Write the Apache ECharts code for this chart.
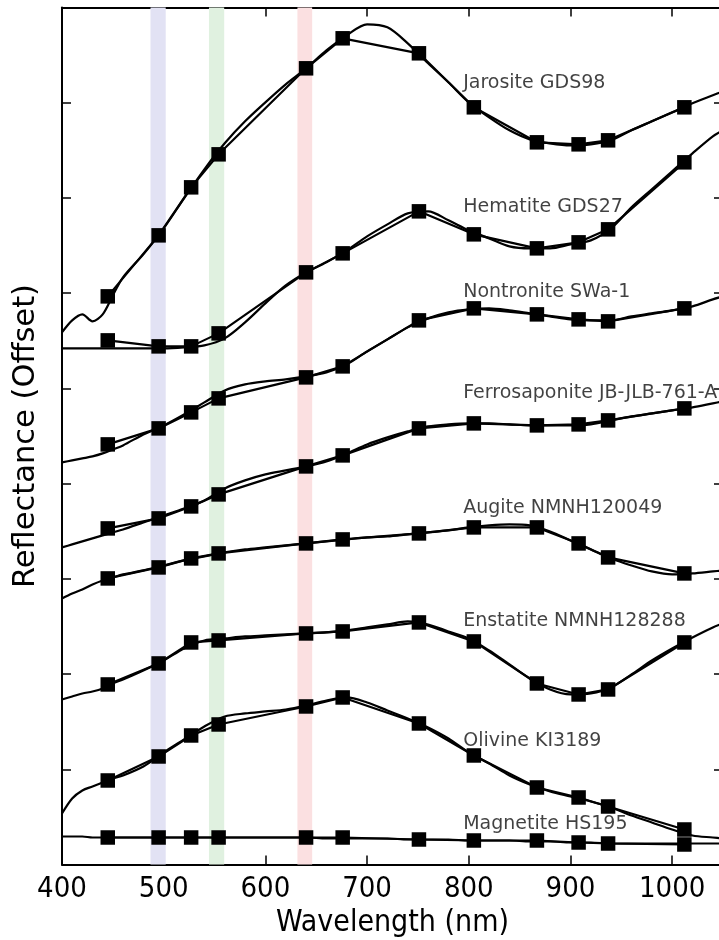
<!DOCTYPE html>
<html><head><meta charset="utf-8">
<script src="https://cdn.jsdelivr.net/npm/echarts@6/dist/echarts.min.js"></script>
<style>html,body{margin:0;padding:0;background:#fff}#c{width:719px;height:940px}</style>
</head><body><div id="c"></div>
<script>
// ---- data ----
const labWavelengths = [400,410,420,430,440,450,460,480,500,520,540,560,580,600,620,640,660,680,700,720,740,760,780,800,820,840,860,880,900,920,940,960,980,1000,1020,1040,1050];
const filterWavelengths = [445,495,527,554,640,676,751,805,867,908,937,1012];
const mineralNames = ['Jarosite GDS98','Hematite GDS27','Nontronite SWa-1','Ferrosaponite JB-JLB-761-A','Augite NMNH120049','Enstatite NMNH128288','Olivine KI3189','Magnetite HS195'];

const jarositeLab = [532,544,550,543,550,569,587,610,636,666,695,721,743,762,780,796,814,829,840,837,821,801,782,762,747,734,725,721,719,720,724,734,743,752,761,769,773];
const hematiteLab = [516,516,516,516,516,516,516,516,516,517,519,526,542,561,579,592,602,614,628,640,651,653,644,634,626,618,616,616,620,624,636,657,675,693,711,728,734];
const nontroniteLab = [402,404,406,408,411,415,419,430,439,450,462,474,480,483,485,488,492,500,513,525,537,546,552,555,556,554,551,548,545,544,544,548,551,554,558,565,568];
const ferrosaponiteLab = [317,320,323,326,329,332,335,342,349,356,364,376,384,390,394,398,403,411,420,427,433,438,440,441,441,440,439,439,439,440,444,448,451,454,457,461,463];
const augiteLab = [266,271,275,280,284,287,290,294,299,304,308,312,315,317,319,321,323,325,327,328,330,332,334,337,339,340,339,333,324,315,306,299,293,290,291,293,294];
const enstatiteLab = [165,168,171,173,176,181,185,194,204,216,224,226,228,229,230,231,232,234,237,240,243,240,233,226,214,200,186,175,170,171,177,190,204,216,227,237,241];
const olivineLab = [51,66,74,78,82,86,89,98,112,125,138,148,151,153,155,159,164,167,162,154,146,137,126,112,101,89,80,73,68,63,57,49,42,35,29,27,26];
const magnetiteLab = [28,28,28,27,27,27,27,27,27,27,27,27,27,27,27,27,26,26,26,26,25,25,25,24,24,24,23,23,22,22,21,21,21,21,21,21,21];

const jarositeFilt = [568,629,677,710,796,826,811,757,722,720,724,757];
const hematiteFilt = [524,518,518,531,592,611,653,630,616,622,635,702];
const nontroniteFilt = [420,436,452,466,487,498,544,556,550,545,543,556];
const ferrosaponiteFilt = [336,346,358,370,398,409,436,441,439,440,444,456];
const augiteFilt = [286,297,306,311,321,325,331,337,337,321,307,291];
const enstatiteFilt = [180,201,222,224,231,233,242,223,181,170,175,222];
const olivineFilt = [84,108,129,140,158,167,141,109,77,67,58,35];
const magnetiteFilt = [27,27,27,27,27,27,25,24,24,22,21,20];

const labelAnchorX = 794.5;
const labelAnchorY = [781,657,572,471,356,243,123,40];

const bandRanges = [[487,502],[544.5,559.5],[631.5,646]];
const bandColors = ['#e2e2f4','#e0f1e0','#fbe0e1'];

const xTicks = [400,500,600,700,800,900,1000];

// ---- build ----
const labSets = [jarositeLab,hematiteLab,nontroniteLab,ferrosaponiteLab,augiteLab,enstatiteLab,olivineLab,magnetiteLab];
const filtSets = [jarositeFilt,hematiteFilt,nontroniteFilt,ferrosaponiteFilt,augiteFilt,enstatiteFilt,olivineFilt,magnetiteFilt];

const FONT_C = '"DejaVu Sans Condensed", "DejaVu Sans", sans-serif';
const FONT = '"DejaVu Sans", sans-serif';

const series = [];
series.push({
  type:'line', data:[], silent:true, z:0,
  markArea:{silent:true, data: bandRanges.map((r,i)=>[{xAxis:r[0], itemStyle:{color:bandColors[i], opacity:1}},{xAxis:r[1]}])}
});
labSets.forEach((arr,i)=>{
  series.push({type:'line', name:mineralNames[i]+' lab', z:3, symbol:'none', smooth:0.3,
    data: labWavelengths.map((w,j)=>[w,arr[j]]),
    lineStyle:{color:'#000', width:2.2}});
});
filtSets.forEach((arr,i)=>{
  series.push({type:'line', name:mineralNames[i]+' filter', z:4, symbol:'rect', symbolSize:14.5,
    data: filterWavelengths.map((w,j)=>[w,arr[j]]),
    itemStyle:{color:'#000'}, lineStyle:{color:'#000', width:2.2}});
});
series.push({type:'scatter', z:5, symbolSize:0, silent:true,
  data: mineralNames.map((n,i)=>({value:[labelAnchorX,labelAnchorY[i]], name:n})),
  label:{show:true, position:'right', distance:0, formatter:p=>p.name, color:'#111', fontSize:19, fontFamily:FONT}
});

const baseX = {type:'value', min:400, max:1050, interval:100, splitLine:{show:false},
  axisLine:{show:true, onZero:false, lineStyle:{color:'#000', width:2}},
  axisTick:{show:true, inside:true, length:9, lineStyle:{color:'#000', width:1.5}}};
const baseY = {type:'value', min:0, max:856.8, interval:95.2, splitLine:{show:false},
  axisLine:{show:true, onZero:false, lineStyle:{color:'#000', width:2}},
  axisTick:{show:true, inside:true, length:9, lineStyle:{color:'#000', width:1.5}},
  axisLabel:{show:false}};

const option = {
  animation:false,
  backgroundColor:'#fff',
  grid:{left:62, width:661, top:7.5, height:857, containLabel:false, outerBoundsMode:'none'},
  xAxis:[
    Object.assign({}, baseX, {position:'bottom',
      axisLabel:{show:true, color:'#000', fontSize:29, fontFamily:FONT_C, margin:10,
        formatter:v=> xTicks.includes(v) ? String(v) : ''},
      name:'Wavelength (nm)', nameLocation:'middle', nameGap:44,
      nameTextStyle:{color:'#000', fontSize:30, fontFamily:FONT_C}}),
    Object.assign({}, baseX, {position:'top', axisLabel:{show:false}})
  ],
  yAxis:[
    Object.assign({}, baseY, {position:'left', name:'Reflectance (Offset)', nameLocation:'middle', nameGap:20,
      nameTextStyle:{color:'#000', fontSize:30.5, fontFamily:FONT}}),
    Object.assign({}, baseY, {position:'right'})
  ],
  series: series
};
const chart = echarts.init(document.getElementById('c'), null, {renderer:'canvas'});
chart.setOption(option);
</script></body></html>
